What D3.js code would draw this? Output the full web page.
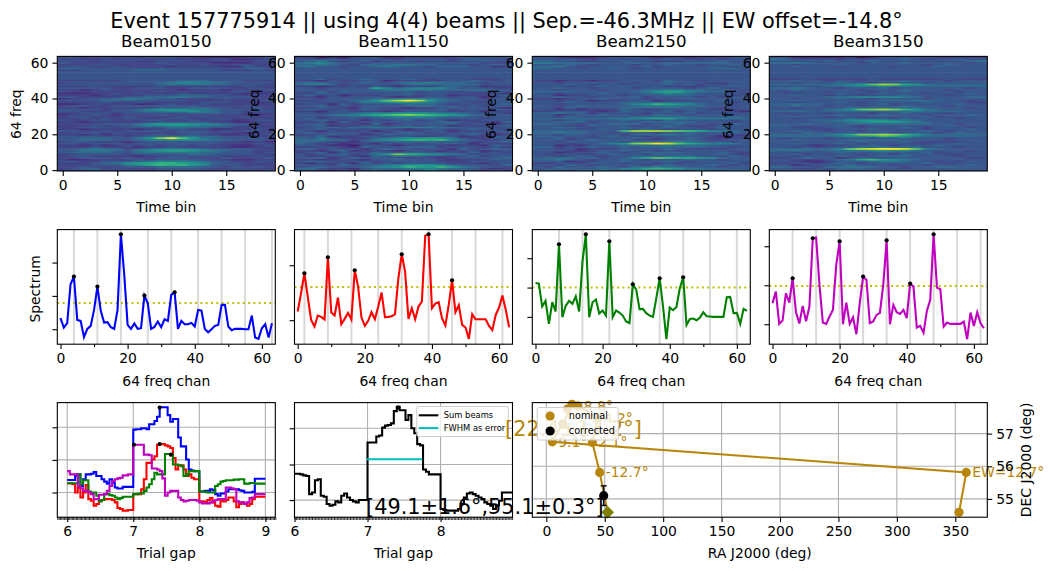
<!DOCTYPE html>
<html><head><meta charset="utf-8">
<script src="https://cdnjs.cloudflare.com/ajax/libs/d3/7.8.5/d3.min.js"></script>
<style>html,body{margin:0;padding:0;background:#fff}svg{display:block}text{font-family:"DejaVu Sans",sans-serif;fill:#000}</style>
</head><body><svg id="c" width="1048" height="571"></svg>
<script>
const suptitle="Event 157775914 || using 4(4) beams || Sep.=-46.3MHz || EW offset=-14.8°";
const beamNames=["Beam0150","Beam1150","Beam2150","Beam3150"];
const beamColors=["#0000ff","#ff0000","#008000","#bf00bf"];
// Dynamic spectra: one string per frequency row (row 0 first), 20 time bins, hex level 0..f
const heat0=["33344343344443343334","34553433344444334433","33433344455554434343","333444679a9a87444333","33345689" + "9aa987544333","44334445677765443344","32233334344444332233","33444343344433343334","34433332334444433343","33444434444455444433","45555445666665544434","44666546789987654433","44565534566665444433","33343332334333332233","33232343434434332234","44344434444444433343","34433323444444433232","44555445667776554443","445554468cfb86544444","44444434556665544433","33232333343343322334","33443433333444333233","44334344443444343433","33233332334433223343","33444344445555443333","33343446778876654433","33334445788877654433","33233333344444332233","43344333443343332344","33434344334433443333","34433343333434333433","23343233343333333223","33444344444455544333","44333445667786544344","44443445788866544443","33233333344455443343","34433444444443333433","22343332234334333333","33334334333334443323","44445554444433333344","23344566544333343333","44333344556655444433","33323333444555443343","22233434333433333223","43333333343333334433","33234333333233323334","44444334443344443343","33343333343333333433","44444444456666554443","34444444456776654444","33333344444555444333","44444444444444444444","44444444444444444444","44444444444444444444","44444444444444444444","44444444444444444444","33444445554444433343","55444444444444444554","34433433332333322433","33344333334334334433","43333333343333222233","44434443344433333344","33333334333333442233","44334343444332222334"];
const heat1=["43324345445565444353","56433245556676554323","3454445678a98a865443","44435445678887544435","32334253434444333244","45543443444443334434","33234324454443233354","44523544443332344445","43344325455544345344","434453468ca987653444","34524435445544435343","33245233323432334234","45343424544344253454","33443254445553444343","44322144323443233254","54342332434344542433","55433245455554443345","55655346789a9a754334","54643335678898643344","44523344344334423354","33454423544443445323","45344434345434344434","43243342343344233344","44534434432344345443","34454556566665544434","44523344344344233345","34433325234444534423","33425344444445543325","44543424345344233444","45344434555554444344","44344556677776554444","44456689abcba9875444","44344567788876654443","33244333234444334233","45434354434445344454","33443244332334544432","44534344445554434344","34425344445554344445","44343466788765443344","33444568bdfd86544444","44344445566665444344","33243444323344344234","45342333444344233345","33544444445444443332","44535444444344334454","44344445666665555544","44344449756777544433","33233434323334544233","56753444445655555444","56544454456676554344","33243344233333445434","44534454445434443334","44444444444444444444","44444444444444444444","44444444444444444444","44444444444444444444","44444444444444444444","44444444444444444444","56443445654435554423","55654355566554443454","56754434444444444333","45643453444344344544","44454444434444345443","33121344223333344444"];
const heat2=["45435564455344454455","44554455779a98665544","43544454355655444344","44354344443454445434","33443544344343444453","44423344544454344444","55654344543444544344","45554534479ba9987544","44345434455455544354","43443345443544444533","44234454345555444543","44432344544343444434","44342333444454333344","55344544545555554434","44232444555565555444","444344578cdfeb986764","44354444355566544434","44434544533344543344","44534444454344543334","55444345443444443233","44354444355565544333","55655443444344544454","55555444adddcba97654","44443454445434443444","44554344544454434544","44433544434454333444","55443445553445443454","44555344445555544434","44345444544354444434","55555556678997666665","44354444455555544454","44234454433544344434","55655344443444534444","33444323544453444432","44232333543344543334","44354444555555444344","44345444456666554434","44344444578a98754444","44454444555555544434","44344233344233344544","33234454443444544444","44544344453444434344","44233444344455544434","44344454445676544443","55554444456899765544","44344434445566554443","44544344434444345434","44434454544433334454","44454344344454534344","44344544434454443344","33233233444354434444","44444444444444444444","44444444444444444444","44444444444444444444","44444444444444444444","44444444444444444444","44444444444444444444","55444445434444445554","55643444445344444434","44454344434454434454","66555544454455555544","55443344544333444544","44454344344454434344","44322234443233233344"];
const heat3=["44544343444454444344","44334455544434444544","55443556554434455444","44234445444344344454","33443454344444543444","44322344456654434344","44333456" + "9a8765444444","33454423443444444433","44344454445554444344","44534344344354443344","44344454445444534444","55654556677775444434","5555557bdeffeb654444","44343444556555444344","44432334454344454444","44544454344443344544","44344444544454333344","44544445555544443444","43444344434454443444","555555677" + "8a986555554","55555679ccdca8655555","44354444445344434544","44544344344444543444","44443344454444344454","44333444344454344434","55444454344444445444","44454445555555544344","44444556788876544444","44445567888765444444","44344445444354444344","44544344344444534444","44344454445444344454","43444344434454443444","55554555555556555544","44444568bcdca8654444","44344445555555444434","44544344344454443444","55655444445344444544","44344454344444544433","44544444445556554434","44344454434444344444","44444556777765444455","44544344344454443444","44344454445444344454","43444344434454444344","44544444344454443444","55654434445344444434","44444556767665555555","555555678bdc98655555","44344454434444344444","44544344344454443444","33343333343333334333","44444444444444444444","44444444444444444444","44444444444444444444","44444444444444444444","44444444444444444444","44444444444444444444","44544434444344454444","44344454444444345444","55654444344454444434","44444544454444444456","65444434444454344544","44222223124444433333"];
// Spectra
const spectrum0=[33,5,18,135,158,28,25,-24,1,10,58,128,55,20,21,6,1,58,285,163,13,1,17,1,3,101,78,1,7,23,6,30,25,103,111,1,25,15,15,19,8,58,56,1,-9,0,10,13,73,73,8,-3,1,1,1,0,0,41,-25,-29,3,15,-25,18];
const spectrum1=[26,81,141,71,1,-19,14,10,2,189,23,14,68,-12,4,22,2,150,101,8,-17,-2,24,3,41,83,9,10,12,18,126,198,146,4,36,3,41,56,254,258,36,50,54,6,-16,46,120,24,45,-14,-22,-56,18,3,3,3,3,-17,-30,16,38,74,31,-21];
const spectrum2=[102,100,31,48,-21,44,16,218,-1,33,48,39,62,16,166,248,-1,44,52,10,19,4,227,-1,19,13,4,-14,-19,98,82,23,24,11,4,0,56,116,31,-67,28,20,30,86,119,-24,-6,-5,-10,-2,14,2,1,0,0,0,0,59,60,11,12,-21,24,18];
const spectrum3=[63,98,1,11,93,65,138,36,2,55,9,53,258,260,118,5,1,23,43,178,249,0,65,1,21,-30,63,143,133,3,8,28,34,118,252,0,58,36,31,43,18,122,113,-10,-5,-26,40,73,270,110,105,-7,5,1,1,1,1,8,-45,35,-5,36,3,-12];
const spectrumTicks=[[0,100,200],[0,165],[0,88,176],[0,117,234]];
const spectrumDomains=[[-45,299],[-72,272],[-82,262],[-60,284]];
const thresholds=[79,100,88,115];
const peaks=[[4,11,18,25,34],[2,9,17,31,39,46],[7,15,22,29,37,44],[6,12,20,27,34,41,48]];
const freqMarks=[[4,11,18,26,33,41,48,55,63],[2,9,16,24,31,39,46,53,61],[7,14,22,29,37,44,52,60],[6,13,20,27,34,41,48,55,62]];
// Pulse profile vs trial gap, sampled every 0.04 from 6.0
const gapStart=6, gapStep=0.04;
const profile0=[38,38,38,50,55,20,40,55,55,57,62,50,50,40,33,27,40,30,15,12,12,17,17,17,17,191,192,192,195,195,192,207,207,217,230,259,259,259,235,215,223,223,167,140,140,100,70,67,65,65,3,3,5,5,10,7,-5,-10,-3,-3,3,10,10,10,10,7,5,0,0,0,2,42,42,42,42,42];
const profile1=[28,28,25,0,15,-15,0,23,-20,-25,-40,-35,-25,-23,-20,-20,-20,-23,-30,-47,-50,-55,-55,-53,-53,-5,-5,-5,10,40,90,90,100,110,145,147,147,143,140,135,105,70,83,83,70,50,55,45,40,40,-27,-27,-30,-23,-17,-30,-40,-43,-25,-27,-23,-15,-15,-27,-45,-35,-30,-35,-40,-35,-20,-13,-13,-13,-13,-13];
const profile2=[28,28,28,28,55,25,37,37,3,0,0,-10,-27,-23,-5,-5,-8,-10,-15,-20,-17,-13,-13,-13,-13,-5,-5,-3,-3,5,15,25,40,60,55,55,55,117,117,115,85,85,83,80,50,55,65,65,65,65,3,3,2,0,0,0,20,25,33,35,37,37,37,39,39,40,40,27,27,29,29,27,27,27,27,27];
const profile3=[65,55,55,55,20,13,5,5,0,-5,-20,-20,-7,-7,-5,5,20,35,40,43,45,52,52,55,55,145,145,145,145,115,115,113,73,73,70,65,43,-10,0,5,5,5,-15,-23,-27,-25,-23,-23,-23,-25,-30,-33,-33,-33,-30,-27,-23,-20,-20,-20,15,15,13,10,-27,-30,-30,-35,-30,-17,-15,-5,-5,-5,-5,-5];
const profileSets=[profile0,profile1,profile2,profile3];
const gapDots=[[7.01,145],[7.4,258],[7.4,147],[7.57,115]];
const profileTicks=[0,99,198], profileDomain=[-75,273];
const sumProfile=[80,80,78,75,73,18,23,60,63,13,10,-12,-17,-14,-4,-7,13,20,8,0,-4,-7,0,0,0,175,175,175,193,196,220,226,228,233,270,283,273,273,243,258,218,203,170,166,93,86,78,78,78,78,-27,-30,-32,-32,-32,-32,-27,-12,8,20,23,18,13,8,3,-7,-12,-17,-27,-17,-2,23,23,23,23,23];
const sumTicks=[0,108,218], sumDomain=[-52,296];
const sumPeak=[7.42,281], fwhm=[[6.99,7.75],124];
const gapTicks=[6,7,8,9];
// Sky map
const raTicks=[0,50,100,150,200,250,300,350], decTicks=[55,56,57];
const ra=[353.2,359.4,5.1,14,22,27,44,39.4,45.7,52.5];
const dec=[54.59,55.81,56.75,57.3,57.85,57.85,57.47,56.73,55.81,54.59];
const raPts=[353.2,359.4,5.1,14,18,22,27,44,39.4,45.7];
const decPts=[54.59,55.81,56.75,57.3,57.75,57.9,57.85,57.47,56.73,55.81];
const ptLabels=["","EW=12.7°","9.1°","","","","8.8°","4.2°","2.1°","-12.7°"];
const diamond=[52.5,54.59];
const corrected={ra:49.1,raErr:1.6,dec:55.1,decErr:0.3};
const goldLabel="[22.4±13.2°]", blackLabel="[49.1±1.6°,55.1±0.3°]";
const gold="#b8860b";

const svg=d3.select("#c"), fs=13.9;
const cols=[57.3,294.5,532.3,769.3], W=218, H=114.6, rows=[56.4,229.6,402.6];
svg.append("text").attr("x",506.5).attr("y",28).attr("text-anchor","middle").attr("font-size",20.83).text(suptitle);
const defs=svg.append("defs");
const blur=defs.append("filter").attr("id","sm").attr("x","-10%").attr("y","-10%").attr("width","120%").attr("height","120%").attr("color-interpolation-filters","sRGB");
blur.append("feGaussianBlur").attr("stdDeviation","2.6 0.5");
const intFmt=d3.format("d");
function clip(id,x,y,w,h){defs.append("clipPath").attr("id",id).append("rect").attr("x",x).attr("y",y).attr("width",w).attr("height",h);}
function styleAxis(g){g.attr("font-size",fs).attr("font-family",null);g.selectAll("path.domain").remove();g.selectAll("line").attr("stroke","#000").attr("stroke-width",1.1);g.selectAll("text").attr("fill","#000").attr("font-size",fs);return g;}
function spine(x,y){svg.append("rect").attr("x",x).attr("y",y).attr("width",W).attr("height",H).attr("fill","none").attr("stroke","#000").attr("stroke-width",1.1);}
function xl(t,cx,y){svg.append("text").attr("x",cx).attr("y",y).attr("text-anchor","middle").attr("font-size",fs).text(t);}
function yl(t,x,cy){svg.append("text").attr("transform",`translate(${x},${cy}) rotate(-90)`).attr("text-anchor","middle").attr("font-size",fs).text(t);}
function bottom(x0,y0,x,vals){const a=d3.axisBottom(x).tickValues(vals).tickSize(4.9).tickPadding(4.2).tickSizeOuter(0).tickFormat(intFmt);svg.append("g").attr("transform",`translate(0,${y0})`).call(a).call(styleAxis);}
function left(x0,y,vals,labels){const a=d3.axisLeft(y).tickValues(vals).tickSize(4.9).tickPadding(4).tickSizeOuter(0).tickFormat(labels?intFmt:"");svg.append("g").attr("transform",`translate(${x0},0)`).call(a).call(styleAxis);}

// Row 1
[heat0,heat1,heat2,heat3].forEach((grid,b)=>{
  const X=cols[b],Y=rows[0],id="h"+b;clip(id,X,Y,W,H);
  const x=d3.scaleLinear().domain([-0.5,19.5]).range([X,X+W]);
  const y=d3.scaleLinear().domain([-0.5,63.5]).range([Y+H,Y]);
  const col=d3.scaleSequential(d3.interpolateViridis).domain([0,15]);
  const g=svg.append("g").attr("clip-path",`url(#${id})`).append("g").attr("filter","url(#sm)");
  const cells=[];
  d3.range(-6,70).forEach(r=>{const rr=Math.max(0,Math.min(63,r));const s=grid[rr];
    d3.range(-4,24).forEach(t=>{const tt=Math.max(0,Math.min(s.length-1,t));cells.push({r,t,v:parseInt(s[tt],16)});});});
  g.selectAll("rect").data(cells).join("rect").attr("x",d=>x(d.t-0.5)-0.3).attr("y",d=>y(d.r+0.5)-0.3)
    .attr("width",x(1)-x(0)+0.6).attr("height",y(0)-y(1)+0.6).attr("fill",d=>col(d.v));
  spine(X,Y);
  bottom(X,Y+H,x,[0,5,10,15]);
  left(X,y,[0,20,40,60],true);
  xl("Time bin",X+W/2,Y+H+41);
  yl("64 freq",X-36,Y+H/2+0.5);
  svg.append("text").attr("x",X+W/2).attr("y",Y-9).attr("text-anchor","middle").attr("font-size",16.67).text(beamNames[b]);
});
// Row 2
[spectrum0,spectrum1,spectrum2,spectrum3].forEach((vals,b)=>{
  const X=cols[b],Y=rows[1];
  const x=d3.scaleLinear().domain([-0.95,64]).range([X,X+W]);
  const y=d3.scaleLinear().domain(spectrumDomains[b]).range([Y+H,Y]);
  svg.append("g").selectAll("line").data(freqMarks[b]).join("line").attr("x1",d=>x(d)).attr("x2",d=>x(d)).attr("y1",Y).attr("y2",Y+H).attr("stroke","#d9d9d9").attr("stroke-width",2);
  svg.append("line").attr("x1",X).attr("x2",X+W).attr("y1",y(thresholds[b])).attr("y2",y(thresholds[b])).attr("stroke","#bfbf00").attr("stroke-width",2).attr("stroke-dasharray","2 3.3");
  svg.append("path").attr("d",d3.line().x((d,i)=>x(i)).y(d=>y(d))(vals)).attr("fill","none").attr("stroke",beamColors[b]).attr("stroke-width",2.08);
  svg.append("g").selectAll("circle").data(peaks[b]).join("circle").attr("cx",d=>x(d)).attr("cy",d=>y(vals[d])).attr("r",2.1).attr("fill","#000");
  spine(X,Y);
  bottom(X,Y+H,x,[0,20,40,60]);
  svg.append("g").attr("transform",`translate(0,${Y+H})`).call(d3.axisBottom(x).tickValues([10,30,50]).tickSize(2.8).tickFormat("")).call(styleAxis);
  left(X,y,spectrumTicks[b],false);
  xl("64 freq chan",X+W/2,Y+H+41.5);
  if(b===0) yl("Spectrum",40,Y+H/2+2);
});
// Row 3, panels 1-2
function minorGap(x,Y){svg.append("g").attr("transform",`translate(0,${Y+H})`).call(d3.axisBottom(x).tickValues(d3.range(x.domain()[0],x.domain()[1]+.001,0.02)).tickSize(2.8).tickFormat("")).call(g=>{g.selectAll("path.domain").remove();g.selectAll("line").attr("stroke","#000").attr("stroke-width",.8);});}
function gridGap(x,y,Xs,Ys,X,Y){svg.append("g").selectAll("line").data(Xs).join("line").attr("x1",d=>x(d)).attr("x2",d=>x(d)).attr("y1",Y).attr("y2",Y+H).attr("stroke","#b0b0b0").attr("stroke-width",1.1);
 svg.append("g").selectAll("line").data(Ys).join("line").attr("x1",X).attr("x2",X+W).attr("y1",d=>y(d)).attr("y2",d=>y(d)).attr("stroke","#b0b0b0").attr("stroke-width",1.1);}
{
  const X=cols[0],Y=rows[2];
  const x=d3.scaleLinear().domain([5.85,9.15]).range([X,X+W]);
  const y=d3.scaleLinear().domain(profileDomain).range([Y+H,Y]);
  gridGap(x,y,gapTicks,profileTicks,X,Y);
  const line=d3.line().x((d,i)=>x(gapStart+i*gapStep)).y(d=>y(d)).curve(d3.curveStepAfter);
  profileSets.forEach((p,b)=>svg.append("path").attr("d",line(p)).attr("fill","none").attr("stroke",beamColors[b]).attr("stroke-width",2.08));
  svg.append("g").selectAll("circle").data(gapDots).join("circle").attr("cx",d=>x(d[0])).attr("cy",d=>y(d[1])).attr("r",2.1).attr("fill","#000");
  spine(X,Y);
  bottom(X,Y+H,x,gapTicks);minorGap(x,Y);
  left(X,y,profileTicks,false);
  xl("Trial gap",X+W/2,Y+H+41);
}
{
  const X=cols[1],Y=rows[2];
  const x=d3.scaleLinear().domain([6,8.985]).range([X,X+W]);
  const y=d3.scaleLinear().domain(sumDomain).range([Y+H,Y]);
  gridGap(x,y,[6,7,8],sumTicks,X,Y);
  const line=d3.line().x((d,i)=>x(Math.min(8.985,gapStart+i*gapStep))).y(d=>y(d)).curve(d3.curveStepAfter);
  svg.append("path").attr("d",line(sumProfile)).attr("fill","none").attr("stroke","#000").attr("stroke-width",2.08);
  svg.append("circle").attr("cx",x(sumPeak[0])).attr("cy",y(sumPeak[1])).attr("r",2.1).attr("fill","#000");
  svg.append("line").attr("x1",x(fwhm[0][0])).attr("x2",x(fwhm[0][1])).attr("y1",y(fwhm[1])).attr("y2",y(fwhm[1])).attr("stroke","#00bfbf").attr("stroke-width",2.08);
  const L=svg.append("g").attr("transform","translate(416.8,406.5)");
  L.append("rect").attr("width",91.5).attr("height",30).attr("rx",2).attr("fill","#fff").attr("fill-opacity",.8).attr("stroke","#ccc").attr("stroke-width",1);
  [["Sum beams","#000",10],["FWHM as error","#00bfbf",22.8]].forEach(e=>{
    L.append("line").attr("x1",2).attr("x2",21.5).attr("y1",e[2]-1.2).attr("y2",e[2]-1.2).attr("stroke",e[1]).attr("stroke-width",2.08);
    L.append("text").attr("x",27).attr("y",e[2]+1.8).attr("font-size",8.33).text(e[0]);
  });
  spine(X,Y);
  bottom(X,Y+H,x,[6,7,8]);minorGap(x,Y);
  left(X,y,sumTicks,false);
  xl("Trial gap",X+W/2,Y+H+41);
}
// Sky map
{
  const X=532.3,Y=rows[2],Wm=455;
  const x=d3.scaleLinear().domain([-12,377.4]).range([X,X+Wm]);
  const y=d3.scaleLinear().domain([54.44,57.95]).range([Y+H,Y]);
  svg.append("g").selectAll("line").data(raTicks).join("line").attr("x1",d=>x(d)).attr("x2",d=>x(d)).attr("y1",Y).attr("y2",Y+H).attr("stroke","#b0b0b0").attr("stroke-width",1.1);
  svg.append("g").selectAll("line").data(decTicks).join("line").attr("x1",X).attr("x2",X+Wm).attr("y1",d=>y(d)).attr("y2",d=>y(d)).attr("stroke","#b0b0b0").attr("stroke-width",1.1);
  const ln=d3.line().x(d=>x(d)).y((d,i)=>y(dec[i]));
  svg.append("path").attr("d",ln(ra)).attr("fill","none").attr("stroke",gold).attr("stroke-width",2.08);
  svg.append("g").selectAll("circle").data(raPts).join("circle").attr("cx",d=>x(d)).attr("cy",(d,i)=>y(decPts[i])).attr("r",4.6).attr("fill",gold);
  svg.append("g").selectAll("text").data(raPts).join("text").attr("x",d=>x(d)+6).attr("y",(d,i)=>y(decPts[i])+5).attr("font-size",13.9).style("fill",gold).text((d,i)=>ptLabels[i]);
  svg.append("path").attr("transform",`translate(${x(diamond[0])},${y(diamond[1])}) rotate(45)`).attr("d",d3.symbol(d3.symbolSquare,80)()).attr("fill","#808000");
  const c=corrected;
  svg.append("line").attr("x1",x(c.ra)).attr("x2",x(c.ra)).attr("y1",y(c.dec-c.decErr)).attr("y2",y(c.dec+c.decErr)).attr("stroke","#000").attr("stroke-width",1.4);
  [c.dec-c.decErr,c.dec+c.decErr].forEach(v=>svg.append("line").attr("x1",x(c.ra)-3).attr("x2",x(c.ra)+3).attr("y1",y(v)).attr("y2",y(v)).attr("stroke","#000").attr("stroke-width",1.4));
  svg.append("circle").attr("cx",x(c.ra)).attr("cy",y(c.dec)).attr("r",4.6).attr("fill","#000");
  svg.append("text").attr("x",505).attr("y",436).attr("font-size",20.83).style("fill",gold).text(goldLabel);
  const L=svg.append("g").attr("transform","translate(537.3,407.5)");
  L.append("rect").attr("width",81).attr("height",32.5).attr("rx",2).attr("fill","#fff").attr("fill-opacity",.8).attr("stroke","#ccc").attr("stroke-width",1);
  [["nominal",gold,8.5],["corrected","#000",23.5]].forEach(e=>{
    L.append("circle").attr("cx",12.8).attr("cy",e[2]).attr("r",4.6).attr("fill",e[1]);
    L.append("text").attr("x",31.5).attr("y",e[2]+3.4).attr("font-size",9.72).text(e[0]);
  });
  svg.append("rect").attr("x",X).attr("y",Y).attr("width",Wm).attr("height",H).attr("fill","none").attr("stroke","#000").attr("stroke-width",1.1);
  svg.append("g").attr("transform",`translate(0,${Y+H})`).call(d3.axisBottom(x).tickValues(raTicks).tickSize(4.9).tickPadding(4.2).tickSizeOuter(0)).call(styleAxis);
  svg.append("g").attr("transform",`translate(${X+Wm},0)`).call(d3.axisRight(y).tickValues(decTicks).tickSize(4.9).tickPadding(4).tickFormat(intFmt).tickSizeOuter(0)).call(styleAxis);
  xl("RA J2000 (deg)",X+Wm/2,Y+H+41);
  svg.append("text").attr("transform",`translate(1031,${Y+H/2}) rotate(-90)`).attr("text-anchor","middle").attr("font-size",fs).text("DEC J2000 (deg)");
  svg.append("text").attr("x",366).attr("y",514).attr("font-size",20.83).text(blackLabel);
}
</script></body></html>
